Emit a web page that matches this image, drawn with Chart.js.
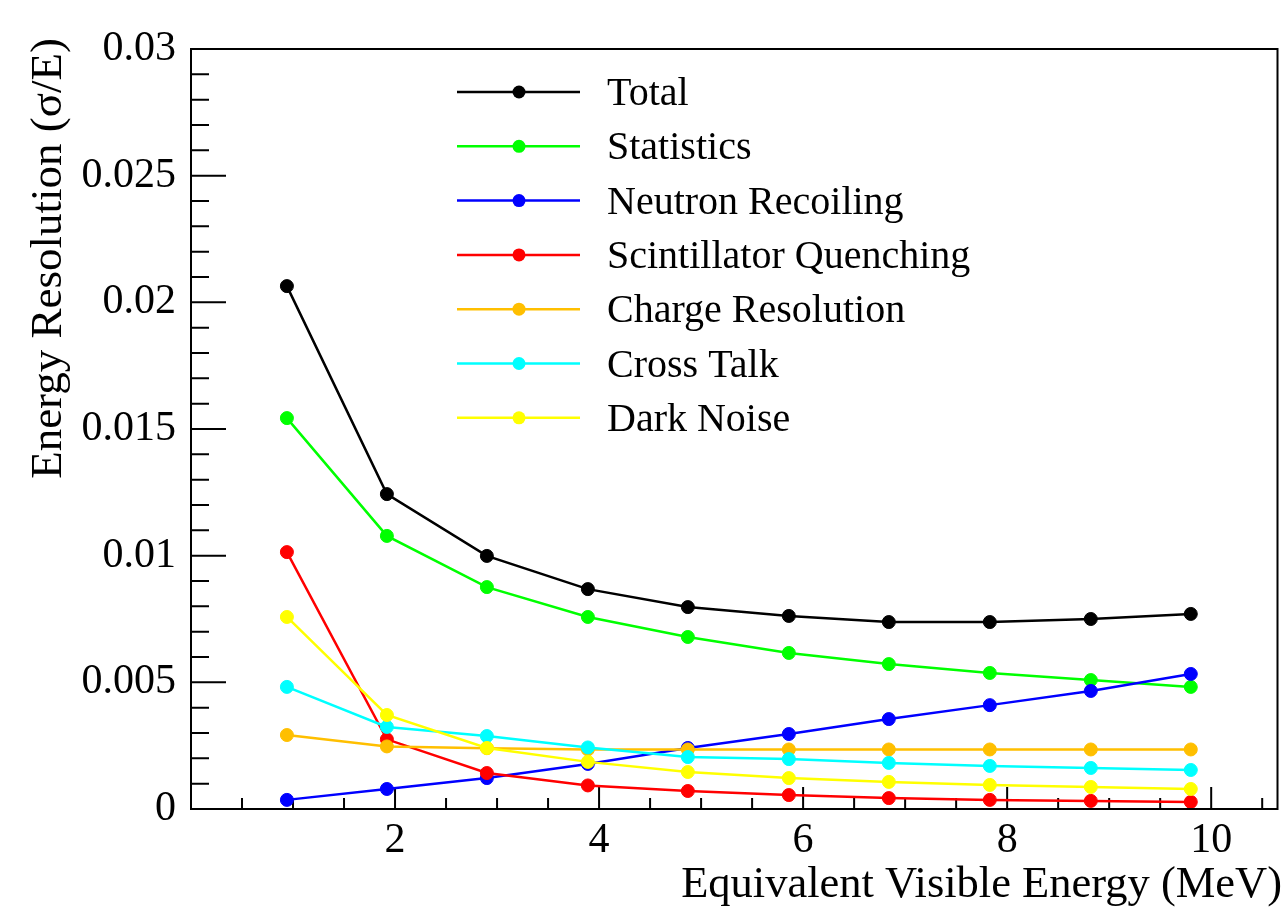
<!DOCTYPE html>
<html>
<head>
<meta charset="utf-8">
<script src="https://cdn.jsdelivr.net/npm/chart.js@4.4.1/dist/chart.umd.min.js"></script>
<style>
  body { margin: 0; background: #fff; }
  #wrap { width: 1285px; height: 910px; }
</style>
</head>
<body>
<div id="wrap"><canvas id="resChart" width="1285" height="910"></canvas></div>
<script>
// values
const energy = [0.94, 1.92, 2.90, 3.89, 4.87, 5.86, 6.84, 7.83, 8.82, 9.80];

const total = [0.02064, 0.01243, 0.00999, 0.00868, 0.00797, 0.00762, 0.00738, 0.00738, 0.0075, 0.0077];
const statistics = [0.01543, 0.01078, 0.00876, 0.00758, 0.00679, 0.00616, 0.00572, 0.00537, 0.00509, 0.00482];
const neutronRecoiling = [0.00036, 0.00079, 0.00122, 0.00178, 0.00241, 0.00296, 0.00355, 0.0041, 0.00466, 0.00533];
const scintQuenching = [0.01014, 0.00275, 0.00142, 0.00093, 0.00071, 0.00055, 0.00043, 0.00036, 0.00032, 0.00028];
const chargeResolution = [0.00292, 0.00247, 0.0024, 0.00235, 0.00235, 0.00235, 0.00235, 0.00235, 0.00235, 0.00235];
const crossTalk = [0.00482, 0.00324, 0.00288, 0.00243, 0.00205, 0.00197, 0.00182, 0.0017, 0.00162, 0.00154];
const darkNoise = [0.00758, 0.00371, 0.00241, 0.00186, 0.00146, 0.00122, 0.00107, 0.00095, 0.00087, 0.00079];

const seriesNames = ["Total", "Statistics", "Neutron Recoiling", "Scintillator Quenching",
  "Charge Resolution", "Cross Talk", "Dark Noise"];
const seriesValues = [total, statistics, neutronRecoiling, scintQuenching, chargeResolution, crossTalk, darkNoise];
const seriesColors = ["#000000", "#00ff00", "#0000ff", "#ff0000", "#ffbf00", "#00ffff", "#ffff00"];

const yTickValues = [0, 0.005, 0.01, 0.015, 0.02, 0.025, 0.03];
const xTickValues = [2, 4, 6, 8, 10];

const FONT = "'Liberation Serif', 'DejaVu Serif', serif";

const datasets = seriesNames.map((name, i) => ({
  label: name,
  data: energy.map((e, k) => ({ x: e, y: seriesValues[i][k] })),
  borderColor: seriesColors[i],
  backgroundColor: seriesColors[i],
  pointBackgroundColor: seriesColors[i],
  pointBorderColor: seriesColors[i],
  pointRadius: 6.5,
  pointBorderWidth: 1,
  borderWidth: 2.5,
  showLine: true,
  tension: 0,
  order: seriesNames.length - 1 - i,
}));

// frame, inward ticks, axis titles and legend (ROOT style)
const rootStyle = {
  id: "rootStyle",
  beforeDatasetsDraw(chart) {
    const { ctx, chartArea: a, scales } = chart;
    const xs = scales.x, ys = scales.y;
    ctx.save();
    ctx.strokeStyle = "#000";
    ctx.lineWidth = 2;
    ctx.beginPath();
    for (let k = 0; k <= 30; k++) {
      const py = ys.getPixelForValue(k * 0.001);
      const len = k % 5 === 0 ? 35 : 18;
      ctx.moveTo(a.left, py);
      ctx.lineTo(a.left + len, py);
    }
    for (let k = 1; k <= 21; k++) {
      const v = k * 0.5;
      if (v > xs.max) break;
      const px = xs.getPixelForValue(v);
      const len = k % 4 === 0 ? 22 : 11;
      ctx.moveTo(px, a.bottom);
      ctx.lineTo(px, a.bottom - len);
    }
    ctx.stroke();
    ctx.restore();
  },
  afterDatasetsDraw(chart) {
    const { ctx, chartArea: a } = chart;
    ctx.save();
    ctx.strokeStyle = "#000";
    ctx.lineWidth = 2;
    ctx.strokeRect(a.left, a.top, a.right - a.left, a.bottom - a.top);

    // axis titles
    ctx.fillStyle = "#000";
    ctx.font = "44.5px " + FONT;
    ctx.textAlign = "right";
    ctx.textBaseline = "alphabetic";
    ctx.fillText("Equivalent Visible Energy (MeV)", 1282, 897);

    ctx.font = "45px " + FONT;
    ctx.translate(61, 38);
    ctx.rotate(-Math.PI / 2);
    ctx.textAlign = "right";
    ctx.fillText("Energy Resolution (\u03c3/E)", 0, 0);
    ctx.restore();

    // legend
    ctx.save();
    chart.data.datasets.forEach((ds, i) => {
      const y = 92 + i * 54.3;
      ctx.strokeStyle = ds.borderColor;
      ctx.lineWidth = 2.5;
      ctx.beginPath();
      ctx.moveTo(457, y);
      ctx.lineTo(580, y);
      ctx.stroke();
      ctx.fillStyle = ds.borderColor;
      ctx.beginPath();
      ctx.arc(519, y, 6.5, 0, Math.PI * 2);
      ctx.fill();
      ctx.fillStyle = "#000";
      ctx.font = "40px " + FONT;
      ctx.textAlign = "left";
      ctx.textBaseline = "alphabetic";
      ctx.fillText(ds.label, 607, y + 13);
    });
    ctx.restore();
  },
};

new Chart(document.getElementById("resChart").getContext("2d"), {
  type: "scatter",
  data: { datasets: datasets },
  options: {
    responsive: false,
    animation: false,
    layout: { padding: { left: 0, right: 2, top: 49, bottom: 0 } },
    plugins: {
      legend: { display: false },
      tooltip: { enabled: false },
    },
    scales: {
      x: {
        type: "linear",
        min: 0,
        max: 10.65,
        afterBuildTicks: (scale) => {
          scale.ticks = xTickValues.map((v) => ({ value: v }));
        },
        afterFit: (scale) => { scale.height = 101; },
        grid: { display: false, drawTicks: false },
        border: { display: false },
        ticks: {
          autoSkip: false,
          maxRotation: 0,
          padding: 7,
          color: "#000",
          font: { family: FONT, size: 42 },
          callback: (v) => String(v),
        },
      },
      y: {
        type: "linear",
        min: 0,
        max: 0.03,
        afterBuildTicks: (scale) => {
          scale.ticks = yTickValues.map((v) => ({ value: v }));
        },
        afterFit: (scale) => { scale.width = 191; },
        grid: { display: false, drawTicks: false },
        border: { display: false },
        ticks: {
          autoSkip: false,
          padding: 15,
          color: "#000",
          font: { family: FONT, size: 42 },
          callback: (v) => String(Number(v.toFixed(3))),
        },
      },
    },
  },
  plugins: [rootStyle],
});
</script>
</body>
</html>
